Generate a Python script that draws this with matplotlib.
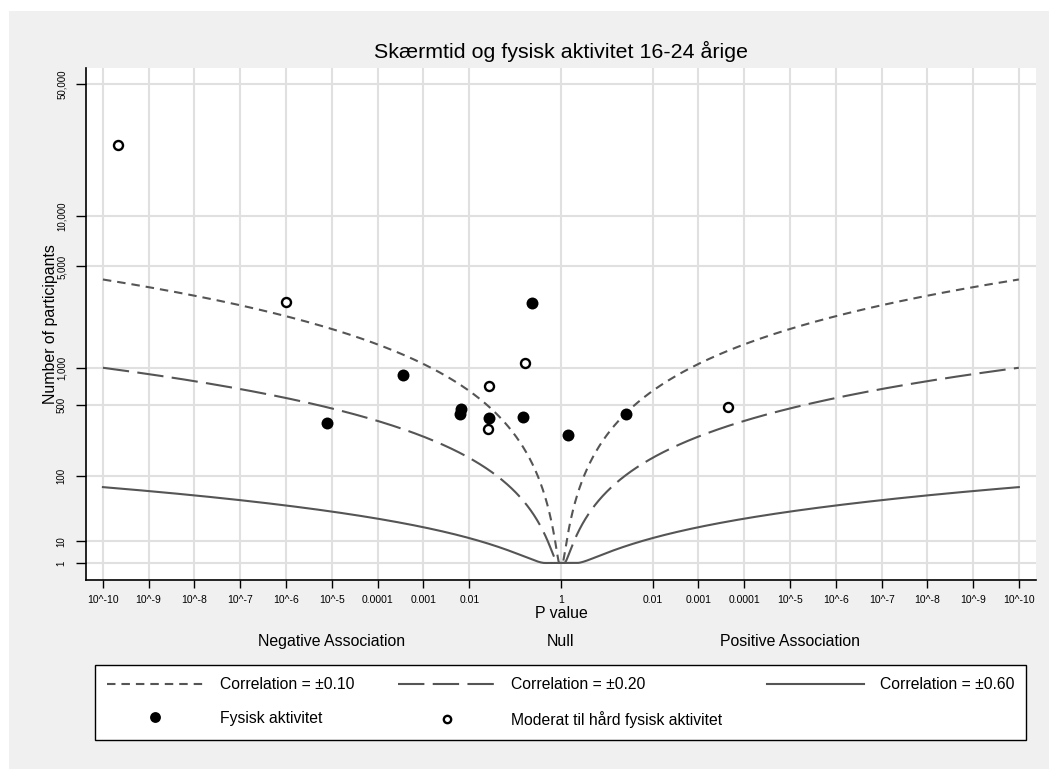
import math
import numpy as np
import matplotlib
matplotlib.use("Agg")
import matplotlib.pyplot as plt
import matplotlib.transforms as mtransforms
from matplotlib.patches import Rectangle
from matplotlib.lines import Line2D

plt.rcParams['font.family'] = ['Liberation Sans', 'DejaVu Sans']
plt.rcParams['lines.scale_dashes'] = False

# Fysisk aktivitet: p-værdi, retning (-1 = negativ, +1 = positiv), antal deltagere
fysisk_p = [0.23, 3.6e-4, 6.7e-3, 6.3e-3, 7.8e-6, 0.027, 0.15, 0.71, 0.037]
fysisk_retning = [-1, -1, -1, -1, -1, -1, -1, 1, 1]
fysisk_n = [2900, 880, 460, 420, 345, 385, 395, 270, 420]

# Moderat til hård fysisk aktivitet
moderat_p = [2.2e-10, 1.0e-6, 0.165, 0.027, 0.026, 2.3e-4]
moderat_retning = [-1, -1, -1, -1, -1, 1]
moderat_n = [24700, 2950, 1100, 715, 305, 485]

# konturer for korrelation
korrelationer = [0.10, 0.20, 0.60]
kontur_stil = [(0, (6.1, 4.3)), (0, (19, 6)), '-']

x_ticks = [-10, -9, -8, -7, -6, -5, -4, -3, -2, 0, 2, 3, 4, 5, 6, 7, 8, 9, 10]
x_labels = ['10^-10', '10^-9', '10^-8', '10^-7', '10^-6', '10^-5', '0.0001', '0.001', '0.01', '1',
            '0.01', '0.001', '0.0001', '10^-5', '10^-6', '10^-7', '10^-8', '10^-9', '10^-10']
y_ticks = [1, 10, 100, 500, 1000, 5000, 10000, 50000]
y_labels = ['1', '10', '100', '500', '1,000', '5,000', '10,000', '50,000']


def position(p, retning):
    # negativ association til venstre, positiv til højre
    return [r * -math.log10(v) for v, r in zip(p, retning)]


def frem(n):
    n = np.clip(np.asarray(n, dtype=float), 1e-12, None)
    l = np.log10(n)
    return np.sign(l) * l ** 2


def tilbage(t):
    t = np.asarray(t, dtype=float)
    return 10 ** (np.sign(t) * np.sqrt(np.abs(t)))


W, H = 1049, 769
fig = plt.figure(figsize=(W / 100, H / 100), dpi=100, facecolor='white')
fig.patches.append(Rectangle((9 / W, 0), 1 - 9 / W, 1 - 11 / H, transform=fig.transFigure,
                             facecolor='#f0f0f0', edgecolor='none', zorder=-10))

ax = fig.add_axes([86 / W, 1 - 580 / H, 950 / W, 512 / H])
ax.set_facecolor('white')
ax.set_yscale('function', functions=(frem, tilbage))

# kontur-kurver
z = np.linspace(0, 6.7, 4000)
p = np.array([math.erfc(v / math.sqrt(2)) for v in z])
ok = p >= 1e-10
z, p = z[ok], p[ok]
lp = np.log10(p)
for r, stil in zip(korrelationer, kontur_stil):
    n = np.maximum(z ** 2 * (1 - r ** 2) / r ** 2, 1)
    xs = np.concatenate([lp[::-1], -lp])
    ns = np.concatenate([n[::-1], n])
    ax.plot(xs, ns, color='#555555', lw=1.5, linestyle=stil, zorder=2)

ax.plot(position(fysisk_p, fysisk_retning), fysisk_n, 'o', color='black', ms=8.6, mew=0, zorder=3)
ax.plot(position(moderat_p, moderat_retning), moderat_n, 'o', mfc='white', mec='black', ms=6.5, mew=1.7, zorder=3)

ax.set_xlim(-10.365, 10.37)
ax.set_ylim(tilbage(-0.785), tilbage(22.84))
ax.set_xticks(x_ticks)
ax.set_xticklabels(x_labels, fontsize=7.5)
ax.set_yticks(y_ticks)
ax.set_yticklabels(y_labels, fontsize=7, rotation=90, va='center')
ax.minorticks_off()
ax.tick_params(axis='x', length=6, width=1, pad=5)
ax.tick_params(axis='y', length=7, width=1, pad=7)
ax.grid(True, color='#e0e0e0', lw=1.5)
ax.set_axisbelow(True)
for s in ['top', 'right']:
    ax.spines[s].set_visible(False)
for s in ['left', 'bottom']:
    ax.spines[s].set_linewidth(1.2)

ax.text(0.5, 1.0332, 'Skærmtid og fysisk aktivitet 16-24 årige', transform=ax.transAxes,
        ha='center', va='center', fontsize=15.4)
ax.text(0.5, -0.0645, 'P value', transform=ax.transAxes, ha='center', va='center', fontsize=11.4)
ax.text(-0.0372, 0.5, 'Number of participants', transform=ax.transAxes, rotation=90,
        ha='center', va='center', fontsize=11.4)
trans = mtransforms.blended_transform_factory(ax.transData, ax.transAxes)
for xv, txt in zip([-5, 0, 5], ['Negative Association', 'Null', 'Positive Association']):
    ax.text(xv, -0.1205, txt, transform=trans, ha='center', va='center', fontsize=11.4)

# forklaring
handles = [
    Line2D([], [], color='#555555', lw=1.5, linestyle=kontur_stil[0]),
    Line2D([], [], marker='o', ls='none', color='black', ms=7.8, mew=0),
    Line2D([], [], color='#555555', lw=1.5, linestyle=kontur_stil[1]),
    Line2D([], [], marker='o', ls='none', mfc='white', mec='black', ms=5.3, mew=1.7),
    Line2D([], [], color='#555555', lw=1.5, linestyle=kontur_stil[2]),
]
labels = ['Correlation = ±0.10', 'Fysisk aktivitet', 'Correlation = ±0.20',
          'Moderat til hård fysisk aktivitet', 'Correlation = ±0.60']
leg = fig.legend(handles, labels, ncol=3, loc='center', mode='expand',
                 bbox_to_anchor=(95 / W, 1 - 740 / H, 931 / W, 75 / H), bbox_transform=fig.transFigure,
                 fontsize=11.3, handlelength=6.2, handletextpad=1.0, labelspacing=1.2,
                 borderpad=0.75, borderaxespad=0, fancybox=False, framealpha=1, edgecolor='black')
leg.get_frame().set_linewidth(1.0)

fig.savefig('out.png', dpi=100, facecolor=fig.get_facecolor())
